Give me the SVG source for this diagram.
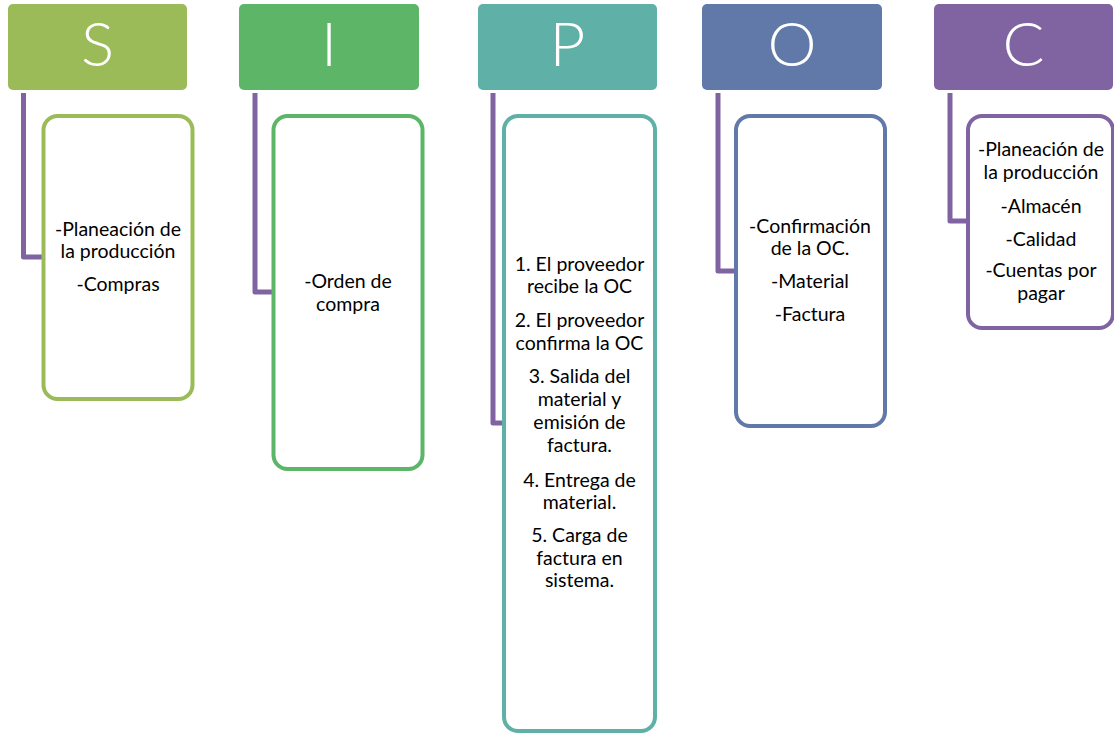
<svg xmlns="http://www.w3.org/2000/svg" width="1114" height="734" viewBox="0 0 1114 734">
  <style>
    .hdr { stroke: none; }
    .letter { font-family: Lato, "Open Sans", "Liberation Sans", sans-serif; font-weight: 300; font-size: 62px; fill: #ffffff; text-anchor: middle; }
    .card { fill: #ffffff; stroke-width: 4; }
    .txt { font-family: Lato, "Liberation Sans", sans-serif; font-size: 19.5px; fill: #000000; text-anchor: middle; }
    .conn { fill: none; stroke: #8064A2; stroke-width: 5; stroke-linejoin: round; }
  </style>
  <rect width="1114" height="734" fill="#ffffff"/>

  <!-- connectors from each header down to its card -->
  <g id="connectors">
    <path class="conn" d="M23.5 93 V257 H44"/>
    <path class="conn" d="M255 93 V292 H274"/>
    <path class="conn" d="M493 93 V423 H505"/>
    <path class="conn" d="M718 93 V271 H736"/>
    <path class="conn" d="M950 93 V221 H968"/>
  </g>

  <!-- S : suppliers -->
  <g id="node-s">
    <rect class="hdr" x="8" y="4" width="179" height="86" rx="5" fill="#9BBB59"/>
    <text class="letter" x="97.5" y="66">S</text>
    <rect class="card" x="43.5" y="116" width="149" height="283" rx="14" stroke="#9BBB59"/>
    <text class="txt" x="118" y="236">-Planeación de</text>
    <text class="txt" x="118" y="258">la producción</text>
    <text class="txt" x="118" y="291">-Compras</text>
  </g>

  <!-- I : inputs -->
  <g id="node-i">
    <rect class="hdr" x="239" y="4" width="180" height="86" rx="5" fill="#5DB568"/>
    <text class="letter" x="329" y="66">I</text>
    <rect class="card" x="273.5" y="116" width="149" height="353" rx="14" stroke="#5DB568"/>
    <text class="txt" x="348" y="288">-Orden de</text>
    <text class="txt" x="348" y="311">compra</text>
  </g>

  <!-- P : process -->
  <g id="node-p">
    <rect class="hdr" x="478" y="4" width="179" height="86" rx="5" fill="#5FB0A6"/>
    <text class="letter" x="567.5" y="66">P</text>
    <rect class="card" x="504" y="116" width="151" height="615" rx="14" stroke="#5FB0A6"/>
    <text class="txt" x="579.5" y="271">1. El proveedor</text>
    <text class="txt" x="579.5" y="293">recibe la OC</text>
    <text class="txt" x="579.5" y="327">2. El proveedor</text>
    <text class="txt" x="579.5" y="350">confirma la OC</text>
    <text class="txt" x="579.5" y="383">3. Salida del</text>
    <text class="txt" x="579.5" y="406">material y</text>
    <text class="txt" x="579.5" y="429">emisión de</text>
    <text class="txt" x="579.5" y="452">factura.</text>
    <text class="txt" x="579.5" y="487">4. Entrega de</text>
    <text class="txt" x="579.5" y="509">material.</text>
    <text class="txt" x="579.5" y="542">5. Carga de</text>
    <text class="txt" x="579.5" y="565">factura en</text>
    <text class="txt" x="579.5" y="587">sistema.</text>
  </g>

  <!-- O : outputs -->
  <g id="node-o">
    <rect class="hdr" x="702" y="4" width="180" height="86" rx="5" fill="#6179A9"/>
    <text class="letter" x="792" y="66">O</text>
    <rect class="card" x="736" y="116" width="149" height="310" rx="14" stroke="#6179A9"/>
    <text class="txt" x="810" y="233">-Confirmación</text>
    <text class="txt" x="810" y="255">de la OC.</text>
    <text class="txt" x="810" y="288">-Material</text>
    <text class="txt" x="810" y="321">-Factura</text>
  </g>

  <!-- C : customers -->
  <g id="node-c">
    <rect class="hdr" x="934" y="4" width="179" height="86" rx="5" fill="#8064A2"/>
    <text class="letter" x="1023.5" y="66">C</text>
    <rect class="card" x="968" y="116" width="145" height="212" rx="14" stroke="#8064A2"/>
    <text class="txt" x="1041" y="156">-Planeación de</text>
    <text class="txt" x="1041" y="179">la producción</text>
    <text class="txt" x="1041" y="213">-Almacén</text>
    <text class="txt" x="1041" y="246">-Calidad</text>
    <text class="txt" x="1041" y="277">-Cuentas por</text>
    <text class="txt" x="1041" y="300">pagar</text>
  </g>
</svg>
